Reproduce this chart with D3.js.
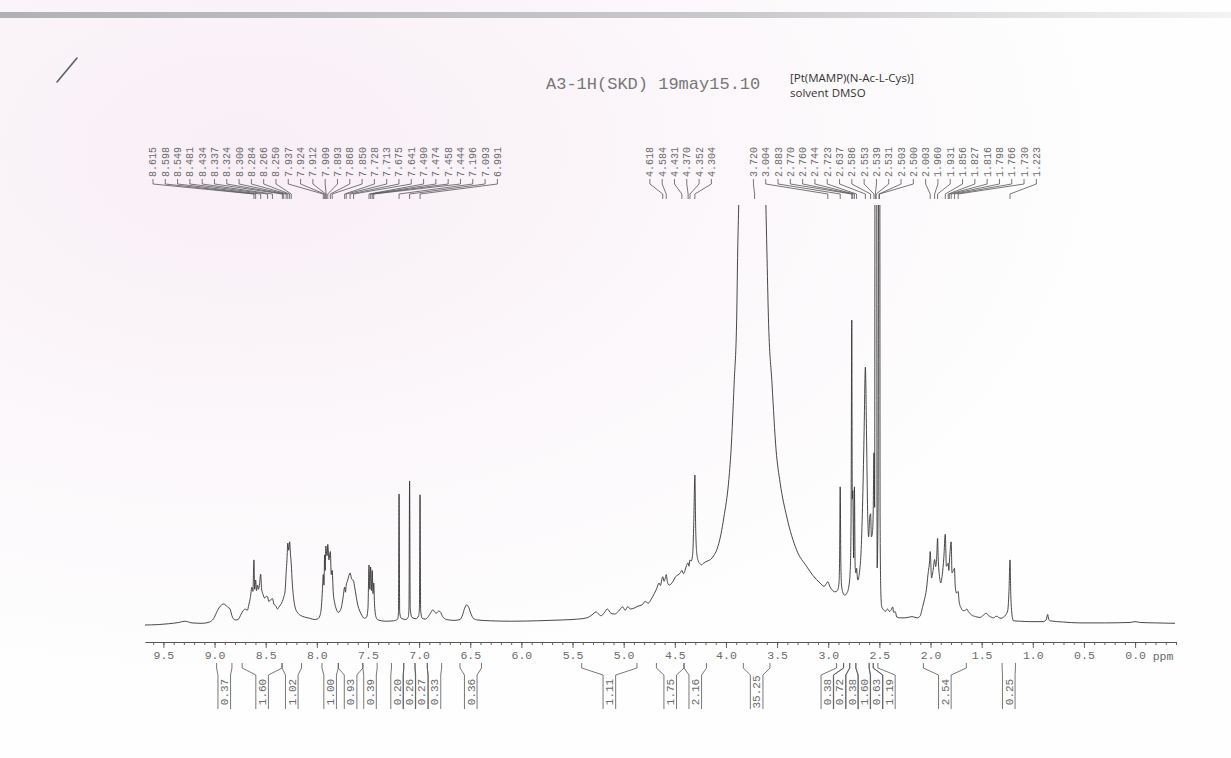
<!DOCTYPE html>
<html><head><meta charset="utf-8">
<script src="https://cdn.jsdelivr.net/npm/d3@7"></script>
<style>html,body{margin:0;padding:0;background:#fdfcfd;}svg{display:block;}</style>
</head><body>
<script>
// ---------------- DATA ----------------
const titleMain = "A3-1H(SKD) 19may15.10";
const titleCompound = "[Pt(MAMP)(N-Ac-L-Cys)]";
const titleSolvent = "solvent DMSO";
const xMajorTicks = [9.5,9.0,8.5,8.0,7.5,7.0,6.5,6.0,5.5,5.0,4.5,4.0,3.5,3.0,2.5,2.0,1.5,1.0,0.5,0.0];
const xUnit = "ppm";

// spectrum: [ppm, relative intensity]  (100 = top of plot, larger values are clipped)
const spectrum = [
[9.68,0],[9.55,0.1],[9.45,0.3],[9.35,0.6],[9.29,0.9],[9.22,0.5],[9.12,0.4],[9.05,0.7],[9.01,1.5],[8.97,3.5],[8.94,4.6],[8.91,5.0],[8.89,4.7],[8.87,4.2],[8.85,3.9],[8.83,2.2],[8.80,1.2],[8.77,1.3],[8.74,2.6],[8.72,3.4],[8.70,3.8],[8.68,3.5],[8.665,4.8],[8.65,6.5],[8.635,9],[8.625,8],[8.615,15.5],[8.608,8.5],[8.598,10.7],[8.59,8.2],[8.58,9.5],[8.57,8.5],[8.56,9.8],[8.549,12.1],[8.54,8.6],[8.525,7.2],[8.51,6.4],[8.495,6.8],[8.481,6.7],[8.47,5.6],[8.455,5.9],[8.434,6.3],[8.42,5.0],[8.40,4.5],[8.385,3.8],[8.37,4.3],[8.355,4.8],[8.337,5.6],[8.324,6.6],[8.31,8.2],[8.300,12.5],[8.292,15.5],[8.284,19.5],[8.275,17.8],[8.266,19.8],[8.258,17],[8.250,14.5],[8.24,10],[8.225,6],[8.21,4],[8.19,3],[8.16,2.3],[8.12,1.9],[8.07,1.6],[8.02,1.3],[7.99,1.5],[7.97,2.2],[7.955,4.5],[7.945,8.5],[7.937,12],[7.930,9.5],[7.924,16.7],[7.918,13],[7.912,18.8],[7.909,18.2],[7.900,16.5],[7.893,19.2],[7.882,15.5],[7.868,17.5],[7.859,12],[7.850,13],[7.84,8],[7.825,5.2],[7.81,3.8],[7.79,3.0],[7.775,3.3],[7.76,4.2],[7.745,6.3],[7.728,9],[7.720,7.8],[7.713,9.5],[7.700,10.5],[7.688,11.6],[7.675,12.4],[7.66,11],[7.641,10.5],[7.63,9],[7.615,6.8],[7.60,4.8],[7.58,3.3],[7.56,2.3],[7.535,1.6],[7.515,1.8],[7.50,4],[7.490,14.3],[7.482,8.5],[7.474,13.8],[7.466,8.2],[7.458,13],[7.451,7.5],[7.444,10],[7.435,4.5],[7.42,1.8],[7.40,1.2],[7.33,0.9],[7.25,1.0],[7.21,1.4],[7.202,3],[7.196,31.2],[7.190,3],[7.175,1.6],[7.13,1.3],[7.105,2],[7.099,4],[7.093,34.3],[7.087,4],[7.07,1.8],[7.03,1.5],[7.005,2.2],[6.997,4],[6.991,31],[6.985,3.5],[6.97,1.6],[6.94,1.4],[6.91,2.0],[6.885,3.0],[6.865,3.6],[6.845,3.0],[6.83,2.8],[6.81,3.3],[6.795,3.2],[6.77,2.0],[6.73,1.3],[6.66,1.1],[6.60,1.3],[6.575,2.4],[6.555,4.0],[6.535,4.8],[6.515,4.2],[6.495,2.8],[6.47,1.6],[6.43,1.2],[6.30,1.0],[6.10,0.9],[5.85,1.0],[5.60,1.2],[5.45,1.4],[5.36,1.7],[5.31,2.4],[5.27,3.1],[5.245,2.6],[5.22,2.2],[5.19,2.9],[5.16,3.8],[5.125,2.8],[5.09,2.6],[5.05,3.3],[5.01,4.3],[4.985,3.5],[4.96,4.4],[4.935,3.8],[4.90,4.0],[4.86,4.5],[4.82,4.8],[4.79,5.6],[4.76,5.2],[4.73,6.2],[4.70,7.5],[4.675,8.8],[4.655,10],[4.64,9.4],[4.628,10.8],[4.618,11.5],[4.605,10.4],[4.595,11],[4.584,12],[4.572,10.2],[4.555,9.5],[4.535,9.8],[4.515,10.5],[4.495,11.4],[4.47,11.9],[4.45,12.3],[4.431,13],[4.415,12.2],[4.40,13],[4.385,14.2],[4.370,14.8],[4.362,14],[4.352,15.5],[4.34,15.2],[4.325,17],[4.315,24],[4.304,35.7],[4.296,23],[4.285,17],[4.27,15.2],[4.255,14.6],[4.24,14.3],[4.22,14.7],[4.20,15],[4.175,15.3],[4.15,15.6],[4.12,16.5],[4.09,17.9],[4.05,21.5],[4.02,25.7],[3.975,33.8],[3.95,41.7],[3.92,57.6],[3.895,73.3],[3.885,89.3],[3.875,100.5],[3.80,250],[3.745,400],[3.68,250],[3.61,100.5],[3.60,89.3],[3.585,73.3],[3.55,57.6],[3.51,41.7],[3.47,33.8],[3.405,25.7],[3.31,17.9],[3.21,13.9],[3.15,11.8],[3.08,10],[3.04,9.2],[3.02,9.8],[3.004,10.3],[2.985,9.2],[2.96,8.3],[2.935,7.9],[2.91,8.2],[2.895,10],[2.889,16],[2.883,32.9],[2.877,15],[2.87,9.5],[2.855,7.6],[2.84,7.1],[2.82,7.5],[2.80,9],[2.785,13],[2.777,25],[2.770,72.6],[2.765,30],[2.760,32],[2.752,16],[2.744,32.9],[2.737,14],[2.73,12.4],[2.723,13.5],[2.716,11.5],[2.71,10.7],[2.695,12.5],[2.68,17],[2.665,28],[2.65,45],[2.637,61.4],[2.625,44],[2.615,27],[2.605,21],[2.595,25.5],[2.586,26.5],[2.578,21],[2.568,22],[2.561,26],[2.553,41],[2.546,28],[2.539,300],[2.531,300],[2.522,13.6],[2.512,30],[2.503,300],[2.500,300],[2.493,25],[2.486,8],[2.478,4.5],[2.46,3.6],[2.44,3.3],[2.42,3.8],[2.40,3.2],[2.385,3.6],[2.37,4.3],[2.36,3.0],[2.345,3.2],[2.33,1.9],[2.30,1.7],[2.25,1.7],[2.18,2.0],[2.13,1.7],[2.10,2.2],[2.085,3.6],[2.06,6],[2.04,8.5],[2.025,12],[2.010,15],[2.003,17.5],[1.99,11.2],[1.975,13],[1.960,15.6],[1.95,13.9],[1.94,16],[1.931,20.6],[1.925,16],[1.912,11.5],[1.90,10],[1.885,12],[1.87,16],[1.856,21.6],[1.845,14],[1.835,14.2],[1.827,14.7],[1.821,13],[1.816,15],[1.810,17],[1.798,19.8],[1.79,12.4],[1.78,12.8],[1.766,13.5],[1.758,9],[1.745,7.6],[1.737,7.8],[1.730,8],[1.72,5.5],[1.70,4],[1.68,3.4],[1.66,3.5],[1.645,3.8],[1.63,3.2],[1.60,2.4],[1.56,2.0],[1.515,1.8],[1.485,2.3],[1.455,2.8],[1.43,2.2],[1.40,1.8],[1.385,1.7],[1.365,2.0],[1.35,2.1],[1.335,1.8],[1.31,1.6],[1.285,1.9],[1.265,2.4],[1.245,3.5],[1.233,8],[1.223,15.5],[1.215,7],[1.205,2.8],[1.19,1.0],[1.12,0.9],[1.03,0.8],[0.90,0.8],[0.87,1.2],[0.855,2.5],[0.845,1.4],[0.83,1.0],[0.70,0.7],[0.54,0.5],[0.30,0.5],[0.05,0.6],[0.0,0.8],[-0.05,0.6],[-0.20,0.5],[-0.39,0.4]
];

const peakLabels = [8.615,8.598,8.549,8.481,8.434,8.337,8.324,8.300,8.284,8.266,8.250,7.937,7.924,7.912,7.909,7.893,7.868,7.850,7.728,7.713,7.675,7.641,7.490,7.474,7.458,7.444,7.196,7.093,6.991,
  4.618,4.584,4.431,4.370,4.352,4.304,
  3.720,3.004,2.883,2.770,2.760,2.744,2.723,2.637,2.586,2.553,2.539,2.531,2.503,2.500,2.003,1.960,1.931,1.856,1.827,1.816,1.798,1.766,1.730,1.223];

const integralRegions = [[8.98,8.83],[8.73,8.34],[8.34,8.15],[7.95,7.79],[7.79,7.55],[7.55,7.41],[7.27,7.15],[7.15,7.04],[7.04,6.92],[6.92,6.78],[6.60,6.39],[5.41,4.87],[4.68,4.41],[4.41,4.19],[3.83,3.57],[2.92,2.85],[2.85,2.79],[2.79,2.73],[2.73,2.60],[2.60,2.56],[2.56,2.515],[2.07,1.65],[1.30,1.17]];
const integralValues = ["0.37","1.60","1.02","1.00","0.93","0.39","0.20","0.26","0.27","0.33","0.36","1.11","1.75","2.16","35.25","0.38","0.72","0.38","1.60","0.63","1.19","2.54","0.25"];

// ---------------- DRAWING ----------------
const W = 1231, H = 758;
const svg = d3.select("body").append("svg").attr("width", W).attr("height", H);
const defs = svg.append("defs");

// paper background
const rg = defs.append("radialGradient").attr("id","paper").attr("cx","0.2").attr("cy","0.2").attr("r","0.7");
rg.append("stop").attr("offset","0").attr("stop-color","#f8eff6");
rg.append("stop").attr("offset","1").attr("stop-color","#fefefe");
svg.append("rect").attr("width",W).attr("height",H).attr("fill","url(#paper)");
const lg = defs.append("linearGradient").attr("id","bar");
lg.append("stop").attr("offset","0").attr("stop-color","#a9a9ae");
lg.append("stop").attr("offset","0.6").attr("stop-color","#c4c4c8");
lg.append("stop").attr("offset","1").attr("stop-color","#f2f2f2");
svg.append("rect").attr("x",0).attr("y",12).attr("width",W).attr("height",6).attr("fill","url(#bar)").attr("opacity",0.9);

// pen mark
svg.append("line").attr("x1",57).attr("y1",82).attr("x2",77).attr("y2",58)
  .attr("stroke","#5a5f70").attr("stroke-width",1.6).attr("stroke-linecap","round");

const x = d3.scaleLinear().domain([9.68, -0.40]).range([145, 1176]);
const y = d3.scaleLinear().domain([0, 100]).range([625, 205]);

// titles
svg.append("text").attr("x",546).attr("y",89).attr("font-family","'Liberation Mono', monospace")
  .attr("font-size",17).attr("fill","#777").text(titleMain);
svg.append("text").attr("x",790).attr("y",82).attr("font-family","'Open Sans', 'Liberation Sans', sans-serif")
  .attr("font-size",11.5).attr("fill","#333").text(titleCompound);
svg.append("text").attr("x",790).attr("y",97).attr("font-family","'Open Sans', 'Liberation Sans', sans-serif")
  .attr("font-size",11.5).attr("fill","#333").text(titleSolvent);

// spectrum
defs.append("clipPath").attr("id","plotclip").append("rect")
  .attr("x",140).attr("y",y(100)).attr("width",1045).attr("height",640 - y(100));
const line = d3.line().x(d => x(d[0])).y(d => y(d[1])).curve(d3.curveMonotoneX);
svg.append("path").datum(spectrum).attr("clip-path","url(#plotclip)")
  .attr("d", line).attr("fill","none").attr("stroke","#333").attr("stroke-width",0.9);

// axis
const axisY = 642;
const minorTicks = d3.range(-4, 97).map(i => i/10).filter(v => v <= 9.65);
const gMinor = svg.append("g").attr("transform",`translate(0,${axisY})`)
  .call(d3.axisBottom(x).tickValues(minorTicks).tickSize(3).tickSizeOuter(0).tickFormat(""));
const gMajor = svg.append("g").attr("transform",`translate(0,${axisY})`)
  .call(d3.axisBottom(x).tickValues(xMajorTicks).tickSize(6).tickSizeOuter(0).tickPadding(3).tickFormat(d3.format(".1f")));
[gMinor, gMajor].forEach(g => {
  g.selectAll("path,line").attr("stroke","#555").attr("stroke-width",0.9);
  g.selectAll("text").attr("font-family","'Liberation Mono', monospace").attr("font-size",11.5).attr("fill","#6a6a6a");
});
svg.append("text").attr("x",1163).attr("y",axisY+18).attr("text-anchor","middle")
  .attr("font-family","'Liberation Mono', monospace").attr("font-size",11.5).attr("fill","#6a6a6a").text(xUnit);

// label spreading helper
function spread(items, gap) {
  let groups = items.map(d => ({m:[d]}));
  const centerOf = g => d3.mean(g.m, d => d.c);
  let changed = true;
  while (changed) {
    changed = false;
    for (let i = 0; i < groups.length - 1; i++) {
      const a = groups[i], b = groups[i+1];
      const aEnd = centerOf(a) + (a.m.length - 1) * gap / 2;
      const bStart = centerOf(b) - (b.m.length - 1) * gap / 2;
      if (bStart - aEnd < gap - 1e-6) {
        groups.splice(i, 2, {m: a.m.concat(b.m)});
        changed = true; break;
      }
    }
  }
  groups.forEach(g => {
    const s = centerOf(g) - (g.m.length - 1) * gap / 2;
    g.m.forEach((d, k) => d.lx = s + k * gap);
  });
  return items;
}

// peak labels
const pk = spread(peakLabels.map(p => ({p, c: x(p)})).sort((a,b) => a.c - b.c), 12.3);
const gPk = svg.append("g");
gPk.selectAll("path").data(pk).join("path")
  .attr("d", d => `M${d.lx},179 L${d.lx},184 L${d.c},194 L${d.c},199`)
  .attr("fill","none").attr("stroke","#555").attr("stroke-width",0.8);
gPk.selectAll("text").data(pk).join("text")
  .attr("transform", d => `translate(${d.lx + 3.5},177) rotate(-90)`)
  .attr("font-family","'Liberation Mono', monospace").attr("font-size",10).attr("fill","#6a6a6a")
  .text(d => d.p.toFixed(3));

// integrals
const integ = spread(integralRegions.map((r, i) => ({a: x(r[0]), b: x(r[1]), v: integralValues[i], c: (x(r[0]) + x(r[1]))/2})), 12.3);
const gI = svg.append("g");
const hw = 6.3;
gI.selectAll("path").data(integ).join("path")
  .attr("d", d => `M${d.a},663 L${d.a},668 L${d.lx - hw},675 L${d.lx - hw},709 M${d.b},663 L${d.b},668 L${d.lx + hw},675 L${d.lx + hw},709`)
  .attr("fill","none").attr("stroke","#555").attr("stroke-width",0.8);
gI.selectAll("text").data(integ).join("text")
  .attr("transform", d => `translate(${d.lx + 3.8},692) rotate(-90)`)
  .attr("text-anchor","middle")
  .attr("font-family","'Liberation Mono', monospace").attr("font-size",11).attr("fill","#6a6a6a")
  .text(d => d.v);
</script>
</body></html>
